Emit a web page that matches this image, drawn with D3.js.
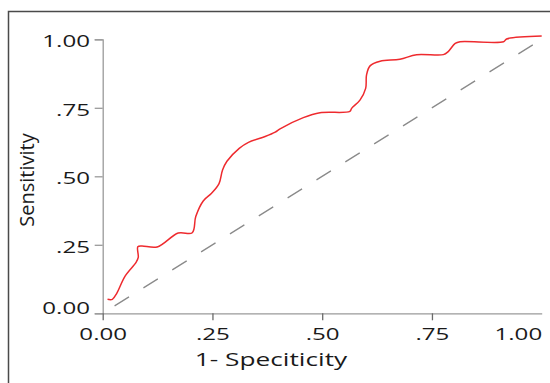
<!DOCTYPE html>
<html>
<head>
<meta charset="utf-8">
<script src="https://cdn.jsdelivr.net/npm/d3@7"></script>
<style>
  body { margin: 0; background: #fff; }
  svg { display: block; }
</style>
</head>
<body>
<script>
// ROC curve points: [1 - specificity, sensitivity]
var rocPoints = [
    [0.011, 0.051], [0.022, 0.051], [0.032, 0.073], [0.051, 0.136], [0.076, 0.186],
    [0.081, 0.204], [0.080, 0.243], [0.089, 0.246], [0.124, 0.242], [0.172, 0.293],
    [0.204, 0.294], [0.212, 0.353], [0.229, 0.410], [0.248, 0.438], [0.265, 0.473],
    [0.273, 0.523], [0.283, 0.555], [0.311, 0.602], [0.332, 0.624], [0.370, 0.645],
    [0.393, 0.661], [0.404, 0.673], [0.457, 0.714], [0.495, 0.732], [0.563, 0.737],
    [0.567, 0.748], [0.586, 0.778], [0.599, 0.821], [0.601, 0.870], [0.609, 0.903],
    [0.632, 0.920], [0.677, 0.927], [0.715, 0.944], [0.776, 0.944], [0.787, 0.955],
    [0.803, 0.985], [0.814, 0.991], [0.913, 0.991], [0.920, 1.001], [1.000, 1.012]
];
var diagonal = [[0, 0], [1, 1]];

var xTicks = [0, 0.25, 0.5, 0.75, 1];
var xTickLabels = ["0.00", ".25", ".50", ".75", "1.00"];
var yTicks = [0, 0.25, 0.5, 0.75, 1];
var yTickLabels = ["0.00", ".25", ".50", ".75", "1.00"];

var xTitle = "1- Speciticity";
var yTitle = "Sensitivity";

(function() {
    var width = 550, height = 383;
    var margin = {top: 39.3, right: 8.3, bottom: 69.7, left: 102.7};
    var chartWidth = width - margin.left - margin.right;
    var chartHeight = height - margin.top - margin.bottom;
    var sx = 1.42; // the reference is stretched sideways

    var svg = d3.select("body")
        .append("svg")
        .attr("width", width)
        .attr("height", height);

    // outer frame, runs off the right and bottom edges
    svg.append("rect")
        .attr("x", 8.5)
        .attr("y", 11.5)
        .attr("width", 700)
        .attr("height", 500)
        .attr("fill", "none")
        .attr("stroke", "#4a4a4a")
        .attr("stroke-width", 1.5);

    var chartG = svg.append("g")
        .attr("transform", `translate(${margin.left},${margin.top})`);

    var xScale = d3.scaleLinear().domain([0, 1]).range([0, chartWidth]);
    var yScale = d3.scaleLinear().domain([0, 1]).range([chartHeight, 0]);

    var xAxis = d3.axisBottom(xScale)
        .tickValues(xTicks)
        .tickFormat((d, i) => xTickLabels[i])
        .tickSize(7)
        .tickSizeOuter(0);

    var yAxis = d3.axisLeft(yScale)
        .tickValues(yTicks)
        .tickFormat((d, i) => yTickLabels[i])
        .tickSize(8)
        .tickSizeOuter(8);

    var yG = chartG.append("g")
        .attr("class", "y-axis")
        .call(yAxis);

    var xG = chartG.append("g")
        .attr("class", "x-axis")
        .attr("transform", `translate(0,${chartHeight})`)
        .call(xAxis);

    [xG, yG].forEach(g => {
        g.select(".domain").attr("stroke", "#9a9a9a").attr("stroke-width", 1.3);
        g.selectAll(".tick text")
            .attr("fill", "#1a1a1a")
            .style("font-family", "'Open Sans', sans-serif")
            .style("font-size", "17px");
    });

    yG.selectAll(".tick line").attr("stroke", "#9a9a9a").attr("stroke-width", 1.3);
    yG.selectAll(".tick text")
        .attr("x", -12.7 / sx)
        .attr("dy", "0.43em")
        .attr("transform", `scale(${sx},1)`)
        .filter(d => d === 0)
        .attr("y", -7);

    xG.selectAll(".tick line").attr("stroke", "#6a6a6a").attr("stroke-width", 1.3);
    xG.selectAll(".tick").filter(d => d === 1).select("line").remove();
    xG.selectAll(".tick text")
        .attr("y", 26.7)
        .attr("dy", 0)
        .attr("transform", `scale(${sx},1)`)
        .filter(d => d === 1)
        .attr("text-anchor", "end");

    // chance line
    chartG.append("path")
        .datum(diagonal)
        .attr("fill", "none")
        .attr("stroke", "#8a8a8a")
        .attr("stroke-width", 1.3)
        .attr("stroke-dasharray", "17,17")
        .attr("stroke-dashoffset", 20)
        .attr("d", d3.line().x(d => xScale(d[0])).y(d => yScale(d[1])));

    // ROC curve
    chartG.append("path")
        .datum(rocPoints)
        .attr("fill", "none")
        .attr("stroke", "#ee2a2e")
        .attr("stroke-width", 1.5)
        .attr("d", d3.line()
            .x(d => xScale(d[0]))
            .y(d => yScale(d[1]))
            .curve(d3.curveCatmullRom.alpha(0.5)));

    svg.append("text")
        .attr("text-anchor", "middle")
        .attr("x", 271 / sx)
        .attr("y", 365.7)
        .attr("transform", `scale(${sx},1)`)
        .attr("fill", "#1a1a1a")
        .style("font-family", "'Open Sans', sans-serif")
        .style("font-size", "18.5px")
        .text(xTitle);

    svg.append("text")
        .attr("text-anchor", "middle")
        .attr("transform", "translate(34,180) rotate(-90)")
        .attr("fill", "#1a1a1a")
        .style("font-family", "'Open Sans', sans-serif")
        .style("font-size", "20px")
        .text(yTitle);
})();
</script>
</body>
</html>
